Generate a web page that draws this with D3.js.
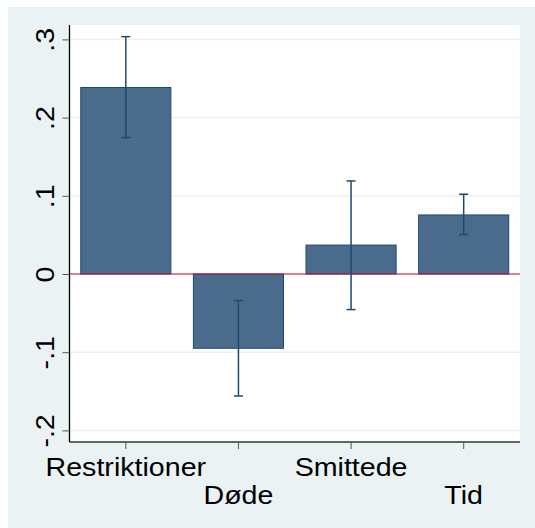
<!DOCTYPE html>
<html>
<head>
<meta charset="utf-8">
<script src="https://cdn.jsdelivr.net/npm/d3@7"></script>
<style>
  body { margin: 0; background: #fff; }
  text { font-family: "Liberation Sans", Arial, sans-serif; fill: #000; }
</style>
</head>
<body>
<div id="container"></div>
<script>
// data
let categories = ["Restriktioner", "Døde", "Smittede", "Tid"];
let estimates = [0.2385, -0.095, 0.037, 0.0755];
let ciLow = [0.1745, -0.156, -0.0455, 0.0505];
let ciHigh = [0.3035, -0.034, 0.119, 0.102];
let yTicks = [-0.2, -0.1, 0, 0.1, 0.2, 0.3];
let yTickLabels = ["-.2", "-.1", "0", ".1", ".2", ".3"];

let w = 535;
let h = 528;
let plot = { left: 69.5, right: 520, top: 25, bottom: 442 };

let viz = d3.select("#container")
  .append("svg")
    .attr("width", w)
    .attr("height", h);

// outer background
viz.append("rect")
  .attr("x", 8).attr("y", 7)
  .attr("width", w - 8).attr("height", h - 7)
  .attr("fill", "#eaf2f3");

viz.append("rect")
  .attr("x", plot.left).attr("y", plot.top)
  .attr("width", plot.right - plot.left).attr("height", plot.bottom - plot.top)
  .attr("fill", "#fff");

let xScale = d3.scaleBand()
  .domain(categories)
  .range([plot.left, plot.right])
  .paddingInner(0.2)
  .paddingOuter(0.1);

let yScale = d3.scaleLinear()
  .domain([-0.1, 0.1])
  .range([352.2, 195.8]);

// gridlines
viz.append("g").selectAll("line").data(yTicks).enter()
  .append("line")
    .attr("x1", plot.left).attr("x2", plot.right)
    .attr("y1", d => yScale(d)).attr("y2", d => yScale(d))
    .attr("stroke", "#eaf2f3")
    .attr("stroke-width", 1.5);

// bars
let rows = categories.map((c, i) => ({ cat: c, est: estimates[i], lo: ciLow[i], hi: ciHigh[i] }));

viz.append("g").selectAll("rect").data(rows).enter()
  .append("rect")
    .attr("x", d => xScale(d.cat))
    .attr("width", xScale.bandwidth())
    .attr("y", d => yScale(Math.max(0, d.est)))
    .attr("height", d => Math.abs(yScale(d.est) - yScale(0)))
    .attr("fill", "#4a6b8c")
    .attr("stroke", "#1d4a70")
    .attr("stroke-width", 1);

// zero line
viz.append("line")
  .attr("x1", plot.left).attr("x2", plot.right)
  .attr("y1", yScale(0)).attr("y2", yScale(0))
  .attr("stroke", "#c8102e")
  .attr("stroke-width", 1.2);

// error bars
let eb = viz.append("g").selectAll("g").data(rows).enter().append("g")
  .attr("stroke", "#1d4a70")
  .attr("stroke-width", 1.5);
let cx = d => xScale(d.cat) + xScale.bandwidth() / 2;
eb.append("line")
  .attr("x1", cx).attr("x2", cx)
  .attr("y1", d => yScale(d.lo)).attr("y2", d => yScale(d.hi));
eb.append("line")
  .attr("x1", d => cx(d) - 4.5).attr("x2", d => cx(d) + 4.5)
  .attr("y1", d => yScale(d.lo)).attr("y2", d => yScale(d.lo));
eb.append("line")
  .attr("x1", d => cx(d) - 4.5).attr("x2", d => cx(d) + 4.5)
  .attr("y1", d => yScale(d.hi)).attr("y2", d => yScale(d.hi));

// y axis
let yAxis = d3.axisLeft(yScale)
  .tickValues(yTicks)
  .tickFormat((d, i) => yTickLabels[i])
  .tickSize(7)
  .tickPadding(0);
let yAxisGroup = viz.append("g").attr("transform", "translate(" + plot.left + ",0)");
yAxisGroup.call(yAxis);
yAxisGroup.select(".domain").attr("d", "M0," + plot.top + "V" + plot.bottom).attr("stroke", "#000").attr("stroke-width", 1.3);
yAxisGroup.selectAll(".tick line").attr("stroke", "#555");
yAxisGroup.selectAll("text")
  .attr("font-size", 26)
  .attr("text-anchor", "middle")
  .attr("x", null).attr("dy", null)
  .attr("transform", "translate(-16,0) rotate(-90) scale(1.1,1)");

// x axis
let xAxis = d3.axisBottom(xScale).tickSize(7).tickPadding(0);
let xAxisGroup = viz.append("g").attr("transform", "translate(0," + plot.bottom + ")");
xAxisGroup.call(xAxis);
xAxisGroup.select(".domain").attr("d", "M" + plot.left + ",0H" + plot.right).attr("stroke", "#333").attr("stroke-width", 1.3);
xAxisGroup.selectAll(".tick line").attr("stroke", "#555");
xAxisGroup.selectAll("text")
  .attr("font-size", 26)
  .attr("text-anchor", "middle")
  .attr("y", null).attr("dy", null)
  .attr("transform", (d, i) => "translate(0," + (i % 2 === 0 ? 34 : 62) + ") scale(1.1,1)");
</script>
</body>
</html>
